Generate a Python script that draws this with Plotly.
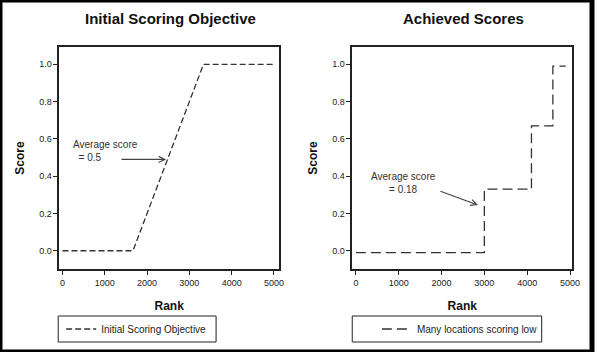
import plotly.graph_objects as go

# ---- data ----
left_rank = [0, 1667, 3333, 5000]
left_score = [0, 0, 1, 1]
right_rank = [0, 3000, 4100, 4600, 4900]
right_score = [-0.01, 0.33, 0.67, 0.99, 0.99]
x_ticks = [0, 1000, 2000, 3000, 4000, 5000]
y_ticks = [0.0, 0.2, 0.4, 0.6, 0.8, 1.0]
titles = ["Initial Scoring Objective", "Achieved Scores"]
legend_names = ["Initial Scoring Objective", "Many locations scoring low"]

W, H = 600, 352
FONT = "Liberation Sans, Arial, sans-serif"
LC = "#333333"

fig = go.Figure()
fig.add_trace(go.Scatter(x=left_rank, y=left_score, mode="lines", name=legend_names[0],
                         line=dict(color=LC, width=1.3, dash="6px,3px"),
                         xaxis="x", yaxis="y", legend="legend", showlegend=True))
fig.add_trace(go.Scatter(x=right_rank, y=right_score, mode="lines", line_shape="hv",
                         name=legend_names[1],
                         line=dict(color=LC, width=1.3, dash="10px,5px"),
                         xaxis="x2", yaxis="y2", legend="legend2", showlegend=True))

def px_x(p):
    return p / W

def px_y(p):
    return 1 - p / H

ax_common = dict(showgrid=False, zeroline=False, showline=True, mirror=True,
                 linecolor="#222", linewidth=1.5, ticks="outside", ticklen=4,
                 tickwidth=1, tickcolor="#222",
                 tickfont=dict(family=FONT, size=9, color="#222"))

yr = [-0.098, 1.093]
title_font = dict(family=FONT, size=12, color="#111")
fig.update_layout(
    width=W, height=H, margin=dict(l=0, r=0, t=0, b=0),
    paper_bgcolor="white", plot_bgcolor="white",
    xaxis=dict(domain=[px_x(60), px_x(283)], range=[-77, 5124], anchor="y",
               tickvals=x_ticks,
               title=dict(text="<b>Rank</b>", font=title_font, standoff=15),
               **ax_common),
    yaxis=dict(domain=[px_y(269), px_y(47)], range=yr, anchor="x",
               tickvals=y_ticks, tickformat=".1f",
               title=dict(text="<b>Score</b>", font=title_font, standoff=12),
               **ax_common),
    xaxis2=dict(domain=[px_x(357), px_x(580)], range=[-85, 5053], anchor="y2",
                tickvals=x_ticks,
                title=dict(text="<b>Rank</b>", font=title_font, standoff=15),
                **ax_common),
    yaxis2=dict(domain=[px_y(269), px_y(47)], range=yr, anchor="x2",
                tickvals=y_ticks, tickformat=".1f",
                title=dict(text="<b>Score</b>", font=title_font, standoff=12),
                **ax_common),
    legend=dict(x=px_x(62), y=px_y(329), xanchor="left", yanchor="middle",
                bgcolor="rgba(0,0,0,0)", borderwidth=0,
                font=dict(family=FONT, size=10, color="#222")),
    legend2=dict(x=px_x(382), y=px_y(329), xanchor="left", yanchor="middle",
                 bgcolor="rgba(0,0,0,0)", borderwidth=0,
                 font=dict(family=FONT, size=10, color="#222")),
    showlegend=True,
)

# titles
for t, cx in zip(titles, [173, 470]):
    fig.add_annotation(x=px_x(cx), y=px_y(19), xref="paper", yref="paper",
                       xanchor="center", yanchor="middle",
                       text=f"<b>{t}</b>", showarrow=False,
                       font=dict(family=FONT, size=15, color="#111"))

# arrow annotations
fig.add_annotation(x=2450, y=0.49, ax=1360, ay=0.49, xref="x", yref="y",
                   axref="x", ayref="y", text="", showarrow=True,
                   arrowhead=5, arrowsize=1, arrowwidth=1.2, arrowcolor="#444")
fig.add_annotation(x=200, y=0.537, xref="x", yref="y", text="Average score<br>  = 0.5",
                   showarrow=False, align="left", xanchor="left", yanchor="middle",
                   font=dict(family=FONT, size=10, color="#333"))
fig.add_annotation(x=2850, y=0.245, ax=1940, ay=0.322, xref="x2", yref="y2",
                   axref="x2", ayref="y2", text="", showarrow=True,
                   arrowhead=5, arrowsize=1, arrowwidth=1.2, arrowcolor="#444")
fig.add_annotation(x=1110, y=0.363, xref="x2", yref="y2", text="Average score<br>= 0.18",
                   showarrow=False, align="center", xanchor="center", yanchor="middle",
                   font=dict(family=FONT, size=10, color="#333"))

# legend boxes
for (x0, x1) in [(59, 219), (357, 549)]:
    fig.add_shape(type="rect", xref="paper", yref="paper",
                  x0=px_x(x0), x1=px_x(x1), y0=px_y(342), y1=px_y(316),
                  line=dict(color="#222", width=1))

# outer border
fig.add_shape(type="rect", xref="paper", yref="paper", x0=0, x1=1, y0=0, y1=1,
              line=dict(color="black", width=5))

fig.write_html("out.html")
